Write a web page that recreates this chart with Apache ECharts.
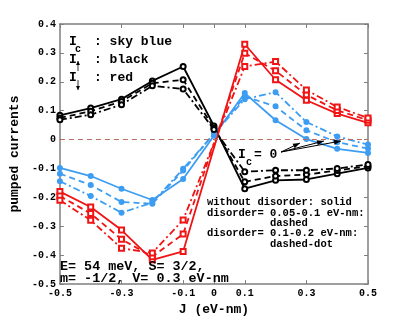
<!DOCTYPE html>
<html>
<head>
<meta charset="utf-8">
<script src="https://cdn.jsdelivr.net/npm/echarts@6/dist/echarts.min.js"></script>
<style>
html, body { margin: 0; padding: 0; background: #fff; }
#box { width: 407px; height: 321px; }
</style>
</head>
<body>
<div id="box"></div>
<script>
// J values (eV-nm)
var jValues = [-0.5, -0.4, -0.3, -0.2, -0.1, 0, 0.1, 0.2, 0.3, 0.4, 0.5];

// I_up : black
var upSolid   = [0.084, 0.109, 0.140, 0.203, 0.253, 0.047, -0.170, -0.141, -0.138, -0.118, -0.098];
var upDashed  = [0.075, 0.098, 0.132, 0.195, 0.207, 0.040, -0.146, -0.126, -0.121, -0.107, -0.092];
var upDashDot = [0.069, 0.086, 0.121, 0.186, 0.175, 0.035, -0.111, -0.106, -0.106, -0.100, -0.086];

// I_down : red (no point at J = 0)
var downSolid   = [-0.180, -0.233, -0.313, -0.416, -0.387, null, 0.330, 0.207, 0.136, 0.090, 0.058];
var downDashed  = [-0.195, -0.256, -0.345, -0.405, -0.327, null, 0.299, 0.238, 0.155, 0.101, 0.067];
var downDashDot = [-0.210, -0.279, -0.376, -0.392, -0.278, null, 0.253, 0.270, 0.172, 0.113, 0.075];

// I_c : sky blue
var cSolid   = [-0.098, -0.126, -0.170, -0.209, -0.136, 0.013, 0.161, 0.067, 0.002, -0.032, -0.046];
var cDashed  = [-0.118, -0.157, -0.216, -0.222, -0.107, 0.021, 0.149, 0.115, 0.032, -0.009, -0.031];
var cDashDot = [-0.144, -0.195, -0.253, -0.218, -0.101, 0.020, 0.140, 0.164, 0.061, 0.011, -0.017];

var xTicks = [-0.5, -0.3, -0.1, 0, 0.1, 0.3, 0.5];

var FONT = '"Liberation Mono", "DejaVu Sans Mono", monospace';
var BLUE = '#3d9df2';
var RED = '#f01414';
var DASH = [6, 4];
var DASHDOT = [7, 3, 2, 3];

function pairs(ys) {
    return jValues.map(function (x, i) { return [x, ys[i]]; });
}

function line(name, ys, color, type, symbol, size) {
    return {
        name: name,
        type: 'line',
        data: pairs(ys),
        connectNulls: true,
        symbol: symbol,
        symbolSize: size,
        showSymbol: true,
        animation: false,
        lineStyle: { color: color, width: 1.8, type: type },
        itemStyle: { color: color, borderColor: color, borderWidth: 1.5 }
    };
}

function fmt(v) {
    if (Math.abs(v) < 1e-9) return '0';
    return v.toFixed(1);
}

var box = document.getElementById('box');
var chart = echarts.init(box);

var axisLine = { show: true, onZero: false, lineStyle: { color: '#7f7f7f', width: 1.5 } };
var tickStyle = { color: '#7f7f7f', width: 1 };

// arrow helper (line + filled head)
function arrow(x1, y1, x2, y2, head, half, w) {
    var dx = x2 - x1, dy = y2 - y1;
    var len = Math.sqrt(dx * dx + dy * dy);
    var ux = dx / len, uy = dy / len;
    var bx = x2 - ux * head, by = y2 - uy * head;
    return [{
        type: 'line', z: 100,
        shape: { x1: x1, y1: y1, x2: x2, y2: y2 },
        style: { stroke: '#000', lineWidth: w }
    }, {
        type: 'polygon', z: 100,
        shape: { points: [[x2, y2], [bx - uy * half, by + ux * half], [bx + uy * half, by - ux * half]] },
        style: { fill: '#000' }
    }];
}

// arrows for "I_c = 0"
var arrowEls = []
    .concat(arrow(281, 152, 300, 143, 7, 2.5, 1))
    .concat(arrow(281, 152, 324, 141, 7, 2.5, 1))
    .concat(arrow(281, 152, 341, 141, 7, 2.5, 1))
    // spin subscripts
    .concat(arrow(78, 71, 78, 61, 4, 2, 0.8))
    .concat(arrow(78, 80, 78, 90, 4, 2, 0.8));

function txt(x, y, s, size) {
    return {
        type: 'text', x: x, y: y, z: 100,
        style: {
            text: s, fill: '#000', font: 'bold ' + size + 'px ' + FONT,
            textAlign: 'left', textVerticalAlign: 'middle'
        }
    };
}

var option = {
    backgroundColor: '#fff',
    animation: false,
    grid: { left: 53, right: 39, top: 24, bottom: 36 },
    xAxis: [{
        type: 'value', min: -0.5, max: 0.5, interval: 0.1,
        name: 'J (eV-nm)', nameLocation: 'middle', nameGap: 13,
        nameTextStyle: { fontFamily: FONT, fontWeight: 'bold', fontSize: 13, color: '#000' },
        axisLine: axisLine,
        axisTick: { show: true, inside: true, length: 4, customValues: xTicks, lineStyle: tickStyle },
        axisLabel: { customValues: xTicks, formatter: fmt, margin: 4, fontFamily: FONT, fontWeight: 'bold', fontSize: 10, color: '#000' },
        splitLine: { show: false }
    }, {
        type: 'value', min: -0.5, max: 0.5, position: 'top',
        axisLine: axisLine,
        axisTick: { show: true, inside: true, length: 4, customValues: xTicks, lineStyle: tickStyle },
        axisLabel: { show: false },
        splitLine: { show: false }
    }],
    yAxis: [{
        type: 'value', min: -0.5, max: 0.4, interval: 0.1,
        name: 'pumped currents', nameLocation: 'middle', nameGap: 31,
        nameTextStyle: { fontFamily: FONT, fontWeight: 'bold', fontSize: 13, color: '#000' },
        axisLine: axisLine,
        axisTick: { show: true, inside: true, length: 4, lineStyle: tickStyle },
        axisLabel: { formatter: fmt, margin: 4, fontFamily: FONT, fontWeight: 'bold', fontSize: 10, color: '#000' },
        splitLine: { show: false }
    }, {
        type: 'value', min: -0.5, max: 0.4, interval: 0.1, position: 'right',
        axisLine: axisLine,
        axisTick: { show: true, inside: true, length: 4, lineStyle: tickStyle },
        axisLabel: { show: false },
        splitLine: { show: false }
    }],
    series: [
        {
            name: 'zero', type: 'line', data: [], silent: true,
            markLine: {
                silent: true, symbol: 'none', label: { show: false },
                lineStyle: { color: '#b86a5c', type: [5, 4], width: 1 },
                data: [{ yAxis: 0 }]
            }
        },
        line('c solid', cSolid, BLUE, 'solid', 'circle', 4.5),
        line('c dashed', cDashed, BLUE, DASH, 'circle', 4.5),
        line('c dashdot', cDashDot, BLUE, DASHDOT, 'circle', 4.5),
        line('up solid', upSolid, '#000', 'solid', 'emptyCircle', 5),
        line('up dashed', upDashed, '#000', DASH, 'emptyCircle', 5),
        line('up dashdot', upDashDot, '#000', DASHDOT, 'emptyCircle', 5),
        line('down solid', downSolid, RED, 'solid', 'emptyRect', 5),
        line('down dashed', downDashed, RED, DASH, 'emptyRect', 5),
        line('down dashdot', downDashDot, RED, DASHDOT, 'emptyRect', 5)
    ],
    graphic: [
        txt(69, 42, 'I', 13), txt(75, 49, 'c', 10), txt(94, 42, ': sky blue', 13),
        txt(69, 60, 'I', 13), txt(94, 60, ': black', 13),
        txt(69, 78, 'I', 13), txt(94, 78, ': red', 13),
        txt(238, 155, 'I', 13), txt(246, 162, 'c', 10), txt(254, 155, '= 0', 13),
        txt(207, 202, 'without disorder: solid', 10.5),
        txt(207, 213, 'disorder= 0.05-0.1 eV-nm:', 10.5),
        txt(270, 223, 'dashed', 10.5),
        txt(207, 233.5, 'disorder= 0.1-0.2 eV-nm:', 10.5),
        txt(270, 244, 'dashed-dot', 10.5),
        txt(60, 267, 'E= 54 meV, S= 3/2,', 13.4),
        txt(60, 278.5, 'm= -1/2, V= 0.3 eV-nm', 13.4)
    ].concat(arrowEls)
};

chart.setOption(option);
</script>
</body>
</html>
